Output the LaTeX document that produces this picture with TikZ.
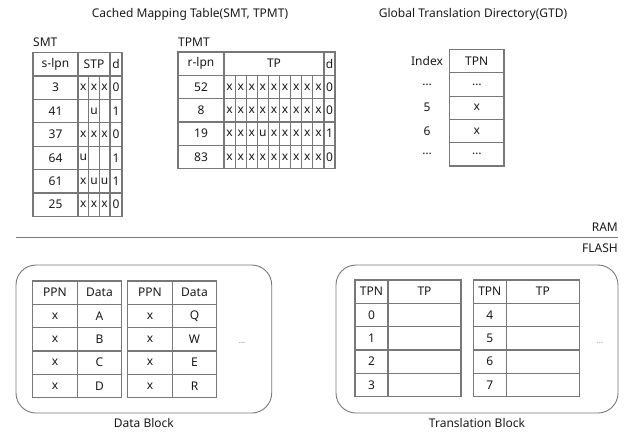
\documentclass[tikz,border=0pt]{standalone}
\usepackage{fontspec}
\setmainfont{Noto Sans}
\usetikzlibrary{positioning}

\definecolor{linegray}{RGB}{120,120,120}
\definecolor{ink}{RGB}{25,25,25}

\begin{document}
\begin{tikzpicture}[x=1pt,y=-1pt,
  grid/.style={draw=linegray,line width=1.2pt},
  txt/.style={inner sep=0pt,text=ink,font=\fontsize{12}{14}\selectfont},
  dots/.style={inner sep=0pt,text=gray,font=\fontsize{8}{9}\selectfont},
  blk/.style={draw=linegray,line width=0.9pt,rounded corners=20pt,inner sep=0pt}]

\useasboundingbox (0,0) rectangle (628,431);

% titles
\node[txt] (cmttitle) at (190,14) {Cached Mapping Table(SMT, TPMT)};
\node[txt] (gtdtitle) at (473,14) {Global Translation Directory(GTD)};
\node[txt,anchor=west] (smtlbl) at (33,42) {SMT};
\node[txt,anchor=west] (tpmtlbl) at (178,42) {TPMT};

% SMT
\draw[grid] (33,52.5) rectangle (122,216.3);
\foreach \k in {1,...,6}
  \draw[grid] (33,52.5+23.4*\k) -- (122,52.5+23.4*\k);
\draw[grid] (78,52.5) -- (78,216.3);
\draw[grid] (110,52.5) -- (110,216.3);
\draw[grid] (88.7,75.9) -- (88.7,216.3);
\draw[grid] (99.3,75.9) -- (99.3,216.3);
\node[txt] (smt-h1) at (55.5,64.2) {s-lpn};
\node[txt] (smt-h2) at (94,64.2) {STP};
\node[txt] (smt-h3) at (116,64.2) {d};
\foreach \lpn/\a/\b/\c/\d [count=\i] in
  {3/x/x/x/0, 41/{}/u/{}/1, 37/x/x/x/0, 64/u/{}/{}/1, 61/x/u/u/1, 25/x/x/x/0}{
  \node[txt] (smt-\i-0) at (55.5,52.5+23.4*\i+11.7) {\lpn};
  \node[txt] (smt-\i-1) at (83.35,52.5+23.4*\i+11.7) {\a};
  \node[txt] (smt-\i-2) at (94,52.5+23.4*\i+11.7) {\b};
  \node[txt] (smt-\i-3) at (104.65,52.5+23.4*\i+11.7) {\c};
  \node[txt] (smt-\i-4) at (116,52.5+23.4*\i+11.7) {\d};
}

% TPMT
\draw[grid] (178,52) rectangle (335,168.5);
\foreach \k in {1,...,4}
  \draw[grid] (178,52+23.3*\k) -- (335,52+23.3*\k);
\draw[grid] (224,52) -- (224,168.5);
\draw[grid] (324,52) -- (324,168.5);
\foreach \j in {1,...,8}
  \draw[grid] (224+11.11*\j,75.3) -- (224+11.11*\j,168.5);
\node[txt] (tpmt-h1) at (201,63.6) {r-lpn};
\node[txt] (tpmt-h2) at (274,63.6) {TP};
\node[txt] (tpmt-h3) at (329.5,63.6) {d};
\foreach \lpn/\bits/\d [count=\i] in
  {52/{x,x,x,x,x,x,x,x,x}/0, 8/{x,x,x,x,x,x,x,x,x}/0,
   19/{x,x,x,u,x,x,x,x,x}/1, 83/{x,x,x,x,x,x,x,x,x}/0}{
  \node[txt] (tpmt-\i-0) at (201,52+23.3*\i+11.65) {\lpn};
  \foreach \b [count=\j] in \bits
    \node[txt] (tpmt-\i-\j) at (224+11.11*\j-5.55,52+23.3*\i+11.65) {\b};
  \node[txt] (tpmt-\i-d) at (329.5,52+23.3*\i+11.65) {\d};
}

% GTD
\draw[grid] (449.5,49.5) rectangle (504,166);
\foreach \k in {1,...,4}
  \draw[grid] (449.5,49.5+23.3*\k) -- (504,49.5+23.3*\k);
\node[txt] (gtd-i0) at (427,61.15) {Index};
\node[txt] (gtd-t0) at (476.75,61.15) {TPN};
\foreach \idx/\tpn [count=\i] in {{\dots}/{\dots}, 5/x, 6/x, {\dots}/{\dots}}{
  \node[txt] (gtd-i\i) at (427,49.5+23.3*\i+11.65) {\idx};
  \node[txt] (gtd-t\i) at (476.75,49.5+23.3*\i+11.65) {\tpn};
}

% RAM / FLASH
\node[txt,anchor=east] (ram) at (618,227.5) {RAM};
\coordinate (sepL) at (16,237.5);
\coordinate (sepR) at (618,237.5);
\draw[draw=linegray,line width=1.1pt] (sepL) -- (sepR);
\node[txt,anchor=east] (flash) at (618,248) {FLASH};

% flash blocks
\node[blk,minimum width=255.7pt,minimum height=148pt] (datablk) at (143.85,339) {};
\node[txt,below=5pt of datablk] (datalbl) {Data Block};
\node[blk,minimum width=282pt,minimum height=148pt] (transblk) at (477,339) {};
\node[txt,below=5pt of transblk] (translbl) {Translation Block};

% data block pages
\foreach \tx/\cells [count=\t] in {32.7/{A,B,C,D}, 127.7/{Q,W,E,R}}{
  \draw[grid] (\tx,281) rectangle (\tx+89,397.5);
  \foreach \k in {1,...,4}
    \draw[grid] (\tx,281+23.3*\k) -- (\tx+89,281+23.3*\k);
  \draw[grid] (\tx+44.6,281) -- (\tx+44.6,397.5);
  \node[txt] (ppn-\t-0) at (\tx+22.3,292.65) {PPN};
  \node[txt] (dat-\t-0) at (\tx+66.8,292.65) {Data};
  \foreach \c [count=\i] in \cells{
    \node[txt] (ppn-\t-\i) at (\tx+22.3,281+23.3*\i+11.65) {x};
    \node[txt] (dat-\t-\i) at (\tx+66.8,281+23.3*\i+11.65) {\c};
  }
}
\node[dots] (datamore) at (242,343) {\dots};

% translation block pages
\foreach \tx/\first [count=\t] in {355/0, 473.3/4}{
  \draw[grid] (\tx,280) rectangle (\tx+106,396.5);
  \foreach \k in {1,...,4}
    \draw[grid] (\tx,280+23.3*\k) -- (\tx+106,280+23.3*\k);
  \draw[grid] (\tx+33,280) -- (\tx+33,396.5);
  \node[txt] (tpn-\t-0) at (\tx+16.5,291.65) {TPN};
  \node[txt] (tp-\t-0) at (\tx+69.5,291.65) {TP};
  \foreach \i in {1,...,4}{
    \pgfmathtruncatemacro{\n}{\first+\i-1}
    \node[txt] (tpn-\t-\i) at (\tx+16.5,280+23.3*\i+11.65) {\n};
  }
}
\node[dots] (transmore) at (600,343) {\dots};

\end{tikzpicture}
\end{document}
